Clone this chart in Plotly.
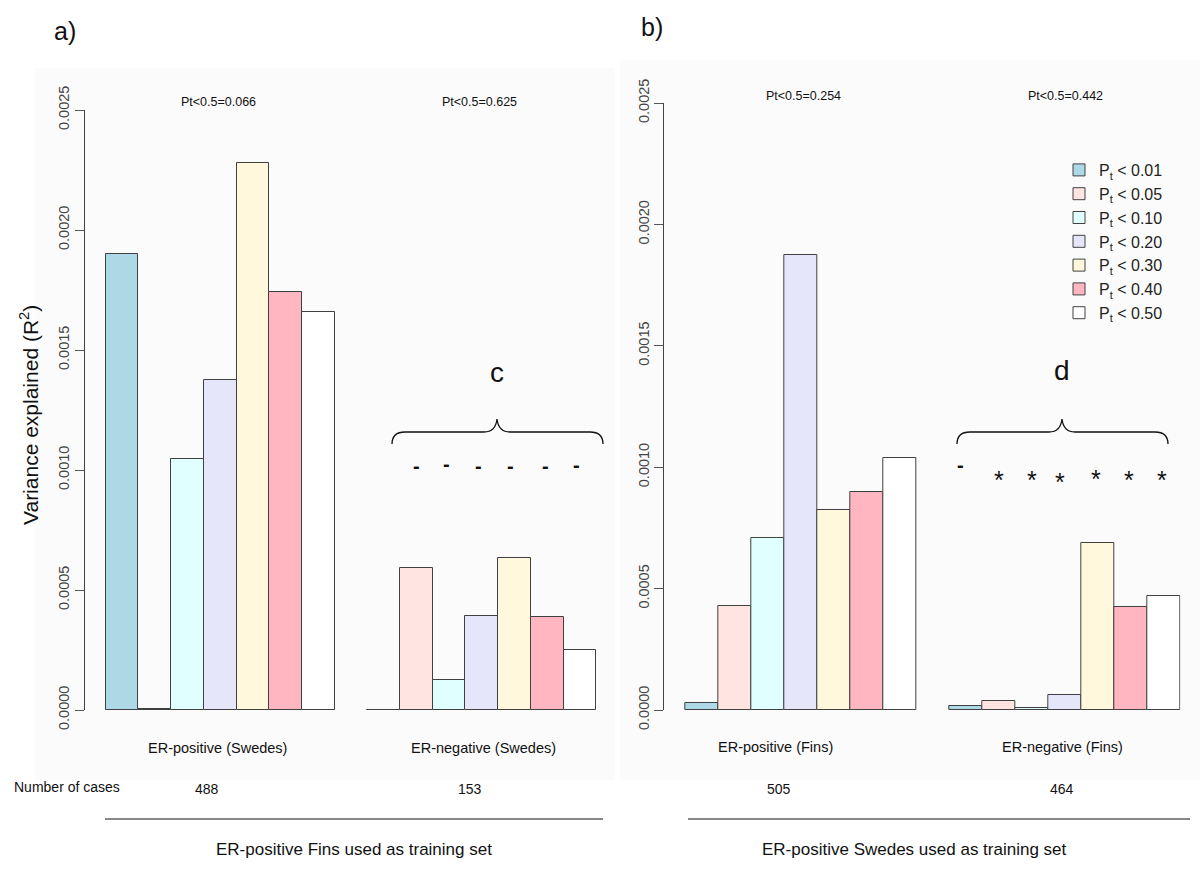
import plotly.graph_objects as go

W, H = 1200, 873

categories = ["0.01", "0.05", "0.10", "0.20", "0.30", "0.40", "0.50"]
colors = ["#ADD8E6", "#FFE4E1", "#E0FFFF", "#E6E6FA", "#FFF8DC", "#FFB6C1", "#FFFFFF"]

# Panel a) ER-positive Fins used as training set
a_er_pos_swedes = [0.00190, 0.000005, 0.001046, 0.001375, 0.00228, 0.00174, 0.00166]
a_er_neg_swedes = [0.0, 0.000593, 0.000123, 0.000390, 0.000632, 0.000386, 0.000249]
# Panel b) ER-positive Swedes used as training set
b_er_pos_fins = [0.000029, 0.000428, 0.000708, 0.001874, 0.000824, 0.000898, 0.001038]
b_er_neg_fins = [0.000015, 0.000036, 0.0000095, 0.000062, 0.000689, 0.000424, 0.000468]

group_labels_a = ["ER-positive (Swedes)", "ER-negative (Swedes)"]
group_labels_b = ["ER-positive (Fins)", "ER-negative (Fins)"]
cases_a = ["488", "153"]
cases_b = ["505", "464"]
pvals_a = ["Pt<0.5=0.066", "Pt<0.5=0.625"]
pvals_b = ["Pt<0.5=0.254", "Pt<0.5=0.442"]
marks_a = ["-", "-", "-", "-", "-", "-"]
marks_b = ["-", "*", "*", "*", "*", "*", "*"]

tick_vals = [0, 0.0005, 0.0010, 0.0015, 0.0020, 0.0025]
tick_text = ["0.0000", "0.0005", "0.0010", "0.0015", "0.0020", "0.0025"]

FONT = "Liberation Sans, Arial, sans-serif"


def px(x):
    return x / W


def py(y):
    return 1 - y / H


fig = go.Figure()

for i, cat in enumerate(categories):
    xs = [i + 0.5, 8 + i + 0.5]
    fig.add_trace(go.Bar(
        x=xs, y=[a_er_pos_swedes[i], a_er_neg_swedes[i]], width=1,
        marker=dict(color=colors[i], line=dict(color="#404040", width=1)),
        name=f"P<sub>t</sub> &lt; {cat}", legendgroup=cat, showlegend=False,
        xaxis="x", yaxis="y"))
    fig.add_trace(go.Bar(
        x=xs, y=[b_er_pos_fins[i], b_er_neg_fins[i]], width=1,
        marker=dict(color=colors[i], line=dict(color="#404040", width=1)),
        name=f"P<sub>t</sub> &lt; {cat}", legendgroup=cat, showlegend=True,
        xaxis="x2", yaxis="y2"))

yaxis_common = dict(
    tickmode="array", tickvals=tick_vals, ticktext=tick_text, tickangle=-90,
    ticks="outside", ticklen=9, tickcolor="#555", tickwidth=1,
    showline=True, linecolor="#444", linewidth=1, showgrid=False, zeroline=False,
    tickfont=dict(family=FONT, size=14.5, color="#444"), range=[0, 0.0025],
    automargin=False,
)

fig.update_layout(
    width=W, height=H, margin=dict(l=0, r=0, t=0, b=0, autoexpand=False),
    paper_bgcolor="white", plot_bgcolor="rgba(0,0,0,0)",
    barmode="group", bargap=0,
    xaxis=dict(domain=[px(85), px(596.2)], range=[-0.633, 15], visible=False, automargin=False),
    xaxis2=dict(domain=[px(664.3), px(1180.3)], range=[-0.636, 15], visible=False, automargin=False),
    yaxis=dict(domain=[py(710), py(110)], anchor="x", **yaxis_common),
    yaxis2=dict(domain=[py(710), py(103)], anchor="x2", **yaxis_common),
    legend=dict(x=px(1059), y=py(153), xanchor="left", yanchor="top",
                bgcolor="rgba(0,0,0,0)", font=dict(family=FONT, size=16, color="#222"),
                tracegroupgap=0, itemclick=False),
    showlegend=True,
)

shapes = []
# faint panel backgrounds
shapes.append(dict(type="rect", xref="paper", yref="paper", x0=px(35), x1=px(615), y0=py(780), y1=py(68),
                   fillcolor="#fbfbfb", line=dict(width=0), layer="below"))
shapes.append(dict(type="rect", xref="paper", yref="paper", x0=px(620), x1=px(1200), y0=py(780), y1=py(60),
                   fillcolor="#fbfbfb", line=dict(width=0), layer="below"))
# training-set underline
shapes.append(dict(type="line", xref="paper", yref="paper", x0=px(105), x1=px(603), y0=py(819), y1=py(819),
                   line=dict(color="#111", width=1.2)))
shapes.append(dict(type="line", xref="paper", yref="paper", x0=px(688), x1=px(1190), y0=py(819), y1=py(819),
                   line=dict(color="#111", width=1.2)))


def brace(x0, x1, xc, ybase, ytop, yapex):
    pts = lambda x, y: f"{px(x):.5f},{py(y):.5f}"
    return ("M " + pts(x0, ybase) +
            " C " + pts(x0, ytop + 4) + " " + pts(x0 + 4, ytop) + " " + pts(x0 + 13, ytop) +
            " L " + pts(xc - 13, ytop) +
            " C " + pts(xc - 5, ytop) + " " + pts(xc - 1, ytop - 4) + " " + pts(xc, yapex) +
            " C " + pts(xc + 1, ytop - 4) + " " + pts(xc + 5, ytop) + " " + pts(xc + 13, ytop) +
            " L " + pts(x1 - 13, ytop) +
            " C " + pts(x1 - 4, ytop) + " " + pts(x1, ytop + 4) + " " + pts(x1, ybase))


shapes.append(dict(type="path", xref="paper", yref="paper", path=brace(392, 603, 497, 444, 432, 419),
                   line=dict(color="#111", width=1.3)))
shapes.append(dict(type="path", xref="paper", yref="paper", path=brace(957, 1168, 1062, 444, 432, 419),
                   line=dict(color="#111", width=1.3)))
fig.update_layout(shapes=shapes)

ann = []


def txt(x, y, s, size, color="#111", xanchor="center", angle=0):
    ann.append(dict(x=px(x), y=py(y), xref="paper", yref="paper", text=s, showarrow=False,
                    font=dict(family=FONT, size=size, color=color), xanchor=xanchor,
                    yanchor="middle", textangle=angle))


txt(65, 31, "a)", 25)
txt(652, 27, "b)", 25)
txt(218, 102, pvals_a[0], 12.5)
txt(479, 102, pvals_a[1], 12.5)
txt(803, 96, pvals_b[0], 12.5)
txt(1065, 96, pvals_b[1], 12.5)
txt(29, 415, "Variance explained (R<sup>2</sup>)", 21, angle=-90)
txt(217, 748, group_labels_a[0], 14.5)
txt(483, 748, group_labels_a[1], 14.5)
txt(776, 747, group_labels_b[0], 14.5)
txt(1062, 747, group_labels_b[1], 14.5)
txt(12, 787, "Number of cases", 14, xanchor="left")
txt(207, 789, cases_a[0], 14)
txt(470, 789, cases_a[1], 14)
txt(779, 789, cases_b[0], 14)
txt(1062, 789, cases_b[1], 14)
txt(354, 849, "ER-positive Fins used as training set", 17)
txt(914, 849, "ER-positive Swedes used as training set", 17)
txt(497, 372, "c", 28)
txt(1062, 370, "d", 28)

mark_pos_a = [(416.7, 466), (446, 464), (478.3, 466), (510, 466), (545, 466), (576.7, 464.5)]
for (x, y), m in zip(mark_pos_a, marks_a):
    txt(x, y, f"<b>{m}</b>", 20)
mark_pos_b = [(960, 465), (999.3, 480), (1031.7, 480), (1060, 482), (1095.7, 479), (1129, 480), (1161.7, 480)]
for (x, y), m in zip(mark_pos_b, marks_b):
    txt(x, y, f"<b>{m}</b>" if m == "-" else m, 20 if m == "-" else 25)

fig.update_layout(annotations=ann)

fig.write_html("out.html", config={"displayModeBar": False},
               post_script="document.body.style.margin='0';document.body.style.padding='0';")
